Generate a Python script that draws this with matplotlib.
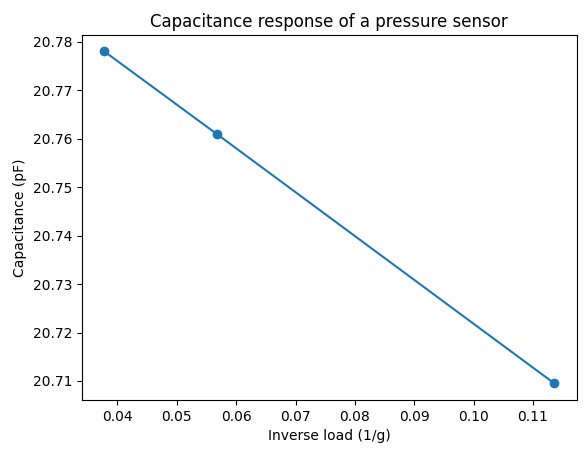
import matplotlib
matplotlib.use("Agg")
import matplotlib.pyplot as plt

inverse_load = [0.0378, 0.0567, 0.1136]
capacitance = [20.778, 20.761, 20.7095]

fig = plt.figure(figsize=(5.85, 4.53), dpi=100)
ax = fig.add_axes([0.140, 0.117, 0.846, 0.806])
ax.plot(inverse_load, capacitance, marker="o")
ax.set_xlabel("Inverse load (1/g)")
ax.set_ylabel("Capacitance (pF)")
ax.set_title("Capacitance response of a pressure sensor")
fig.savefig("out.png", dpi=100)
